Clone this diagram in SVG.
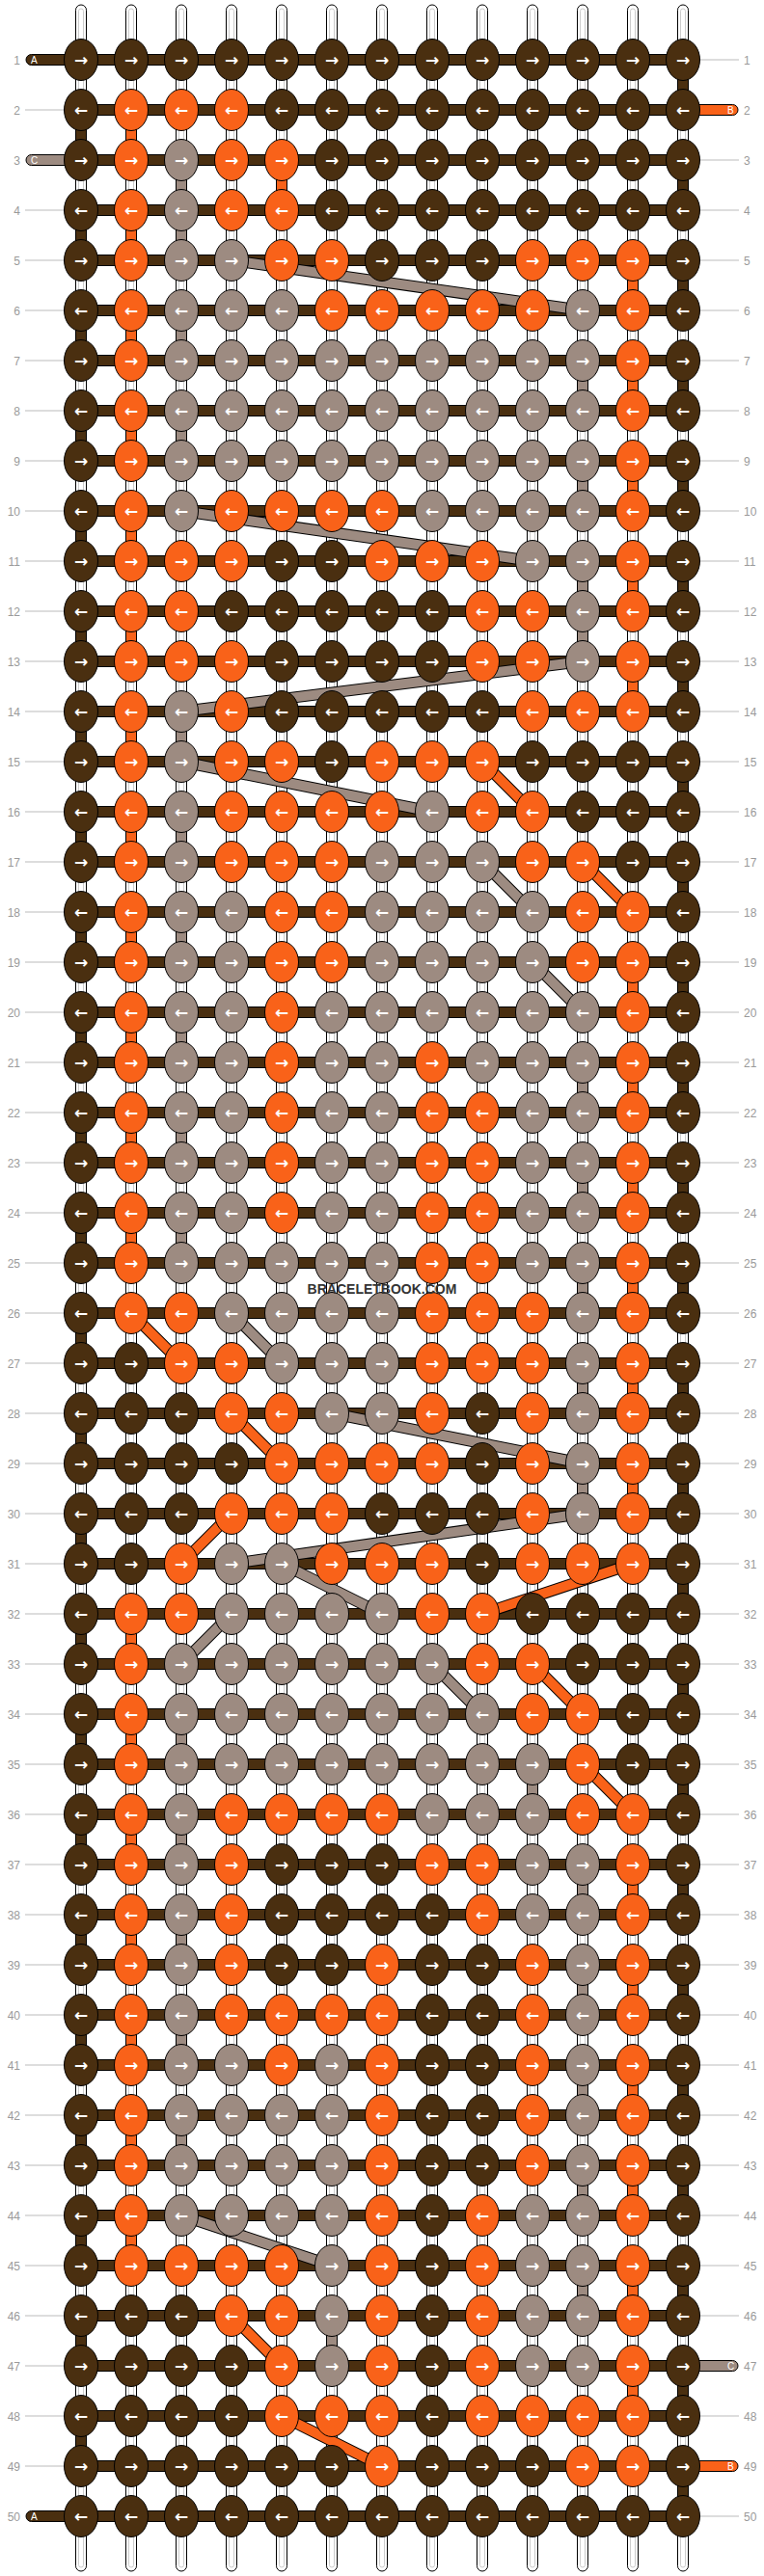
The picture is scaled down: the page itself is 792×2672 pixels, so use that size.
<svg xmlns="http://www.w3.org/2000/svg" xmlns:xlink="http://www.w3.org/1999/xlink" width="792" height="2672" viewBox="0 0 792 2672">
<style>
.k text{font-family:"DejaVu Sans",sans-serif;font-size:17px;font-weight:bold;fill:#fff;text-anchor:middle;dominant-baseline:central}
.n{font-family:"Liberation Sans",Arial,sans-serif;font-size:12px;fill:#9a9a9a}
.nl{text-anchor:end}
.gl{stroke:#bbb;stroke-width:1}
.vs{fill:#fff;stroke:#000;stroke-width:1}
.vi{fill:none;stroke:#ccc;stroke-width:1}
.hb{fill:#4a2f10;stroke:#000;stroke-width:1}
.cD{fill:#4a2f10;stroke:#000;stroke-width:1}
.cO{fill:#f96219;stroke:#000;stroke-width:1}
.cG{fill:#9d8b81;stroke:#000;stroke-width:1}
.dk{stroke:#000;stroke-width:12;fill:none}
.dO{stroke:#f96219;stroke-width:10;fill:none}
.dG{stroke:#9d8b81;stroke-width:10;fill:none}
.sl{font-family:"Liberation Sans",Arial,sans-serif;font-size:10px;fill:#fff}
.wm{font-family:"Liberation Sans",Arial,sans-serif;font-size:14px;font-weight:bold;fill:#333;text-anchor:middle}
</style>
<defs>
<ellipse id="D" rx="17.5" ry="21.5" fill="#4a2f10" stroke="#000" stroke-width="1"/>
<ellipse id="O" rx="17.5" ry="21.5" fill="#f96219" stroke="#000" stroke-width="1"/>
<ellipse id="G" rx="17.5" ry="21.5" fill="#9d8b81" stroke="#000" stroke-width="1"/>
</defs>
<rect width="792" height="2672" fill="#fff"/>
<g id="strands">
<rect class="vs" x="78.5" y="5" width="11" height="2662" rx="5.5"/><rect class="vi" x="81.5" y="9" width="5" height="2654" rx="2.5"/>
<rect class="vs" x="130.5" y="5" width="11" height="2662" rx="5.5"/><rect class="vi" x="133.5" y="9" width="5" height="2654" rx="2.5"/>
<rect class="vs" x="182.5" y="5" width="11" height="2662" rx="5.5"/><rect class="vi" x="185.5" y="9" width="5" height="2654" rx="2.5"/>
<rect class="vs" x="234.5" y="5" width="11" height="2662" rx="5.5"/><rect class="vi" x="237.5" y="9" width="5" height="2654" rx="2.5"/>
<rect class="vs" x="286.5" y="5" width="11" height="2662" rx="5.5"/><rect class="vi" x="289.5" y="9" width="5" height="2654" rx="2.5"/>
<rect class="vs" x="338.5" y="5" width="11" height="2662" rx="5.5"/><rect class="vi" x="341.5" y="9" width="5" height="2654" rx="2.5"/>
<rect class="vs" x="390.5" y="5" width="11" height="2662" rx="5.5"/><rect class="vi" x="393.5" y="9" width="5" height="2654" rx="2.5"/>
<rect class="vs" x="442.5" y="5" width="11" height="2662" rx="5.5"/><rect class="vi" x="445.5" y="9" width="5" height="2654" rx="2.5"/>
<rect class="vs" x="494.5" y="5" width="11" height="2662" rx="5.5"/><rect class="vi" x="497.5" y="9" width="5" height="2654" rx="2.5"/>
<rect class="vs" x="546.5" y="5" width="11" height="2662" rx="5.5"/><rect class="vi" x="549.5" y="9" width="5" height="2654" rx="2.5"/>
<rect class="vs" x="598.5" y="5" width="11" height="2662" rx="5.5"/><rect class="vi" x="601.5" y="9" width="5" height="2654" rx="2.5"/>
<rect class="vs" x="650.5" y="5" width="11" height="2662" rx="5.5"/><rect class="vi" x="653.5" y="9" width="5" height="2654" rx="2.5"/>
<rect class="vs" x="702.5" y="5" width="11" height="2662" rx="5.5"/><rect class="vi" x="705.5" y="9" width="5" height="2654" rx="2.5"/>
</g>
<g id="rowlabels">
<text class="n nl" x="21" y="66.5">1</text><text class="n" x="771" y="66.5">1</text>
<text class="n nl" x="21" y="118.5">2</text><text class="n" x="771" y="118.5">2</text>
<text class="n nl" x="21" y="170.5">3</text><text class="n" x="771" y="170.5">3</text>
<text class="n nl" x="21" y="222.5">4</text><text class="n" x="771" y="222.5">4</text>
<text class="n nl" x="21" y="274.5">5</text><text class="n" x="771" y="274.5">5</text>
<text class="n nl" x="21" y="326.5">6</text><text class="n" x="771" y="326.5">6</text>
<text class="n nl" x="21" y="378.5">7</text><text class="n" x="771" y="378.5">7</text>
<text class="n nl" x="21" y="430.5">8</text><text class="n" x="771" y="430.5">8</text>
<text class="n nl" x="21" y="482.5">9</text><text class="n" x="771" y="482.5">9</text>
<text class="n nl" x="21" y="534.5">10</text><text class="n" x="771" y="534.5">10</text>
<text class="n nl" x="21" y="586.5">11</text><text class="n" x="771" y="586.5">11</text>
<text class="n nl" x="21" y="638.5">12</text><text class="n" x="771" y="638.5">12</text>
<text class="n nl" x="21" y="690.5">13</text><text class="n" x="771" y="690.5">13</text>
<text class="n nl" x="21" y="742.5">14</text><text class="n" x="771" y="742.5">14</text>
<text class="n nl" x="21" y="794.5">15</text><text class="n" x="771" y="794.5">15</text>
<text class="n nl" x="21" y="846.5">16</text><text class="n" x="771" y="846.5">16</text>
<text class="n nl" x="21" y="898.5">17</text><text class="n" x="771" y="898.5">17</text>
<text class="n nl" x="21" y="950.5">18</text><text class="n" x="771" y="950.5">18</text>
<text class="n nl" x="21" y="1002.5">19</text><text class="n" x="771" y="1002.5">19</text>
<text class="n nl" x="21" y="1054.5">20</text><text class="n" x="771" y="1054.5">20</text>
<text class="n nl" x="21" y="1106.5">21</text><text class="n" x="771" y="1106.5">21</text>
<text class="n nl" x="21" y="1158.5">22</text><text class="n" x="771" y="1158.5">22</text>
<text class="n nl" x="21" y="1210.5">23</text><text class="n" x="771" y="1210.5">23</text>
<text class="n nl" x="21" y="1262.5">24</text><text class="n" x="771" y="1262.5">24</text>
<text class="n nl" x="21" y="1314.5">25</text><text class="n" x="771" y="1314.5">25</text>
<text class="n nl" x="21" y="1366.5">26</text><text class="n" x="771" y="1366.5">26</text>
<text class="n nl" x="21" y="1418.5">27</text><text class="n" x="771" y="1418.5">27</text>
<text class="n nl" x="21" y="1470.5">28</text><text class="n" x="771" y="1470.5">28</text>
<text class="n nl" x="21" y="1522.5">29</text><text class="n" x="771" y="1522.5">29</text>
<text class="n nl" x="21" y="1574.5">30</text><text class="n" x="771" y="1574.5">30</text>
<text class="n nl" x="21" y="1626.5">31</text><text class="n" x="771" y="1626.5">31</text>
<text class="n nl" x="21" y="1678.5">32</text><text class="n" x="771" y="1678.5">32</text>
<text class="n nl" x="21" y="1730.5">33</text><text class="n" x="771" y="1730.5">33</text>
<text class="n nl" x="21" y="1782.5">34</text><text class="n" x="771" y="1782.5">34</text>
<text class="n nl" x="21" y="1834.5">35</text><text class="n" x="771" y="1834.5">35</text>
<text class="n nl" x="21" y="1886.5">36</text><text class="n" x="771" y="1886.5">36</text>
<text class="n nl" x="21" y="1938.5">37</text><text class="n" x="771" y="1938.5">37</text>
<text class="n nl" x="21" y="1990.5">38</text><text class="n" x="771" y="1990.5">38</text>
<text class="n nl" x="21" y="2042.5">39</text><text class="n" x="771" y="2042.5">39</text>
<text class="n nl" x="21" y="2094.5">40</text><text class="n" x="771" y="2094.5">40</text>
<text class="n nl" x="21" y="2146.5">41</text><text class="n" x="771" y="2146.5">41</text>
<text class="n nl" x="21" y="2198.5">42</text><text class="n" x="771" y="2198.5">42</text>
<text class="n nl" x="21" y="2250.5">43</text><text class="n" x="771" y="2250.5">43</text>
<text class="n nl" x="21" y="2302.5">44</text><text class="n" x="771" y="2302.5">44</text>
<text class="n nl" x="21" y="2354.5">45</text><text class="n" x="771" y="2354.5">45</text>
<text class="n nl" x="21" y="2406.5">46</text><text class="n" x="771" y="2406.5">46</text>
<text class="n nl" x="21" y="2458.5">47</text><text class="n" x="771" y="2458.5">47</text>
<text class="n nl" x="21" y="2510.5">48</text><text class="n" x="771" y="2510.5">48</text>
<text class="n nl" x="21" y="2562.5">49</text><text class="n" x="771" y="2562.5">49</text>
<text class="n nl" x="21" y="2614.5">50</text><text class="n" x="771" y="2614.5">50</text>
</g>
<g id="guides" class="gl">
<line x1="726" x2="766" y1="62" y2="62"/>
<line x1="26" x2="66" y1="114" y2="114"/>
<line x1="726" x2="766" y1="166" y2="166"/>
<line x1="26" x2="66" y1="218" y2="218"/><line x1="726" x2="766" y1="218" y2="218"/>
<line x1="26" x2="66" y1="270" y2="270"/><line x1="726" x2="766" y1="270" y2="270"/>
<line x1="26" x2="66" y1="322" y2="322"/><line x1="726" x2="766" y1="322" y2="322"/>
<line x1="26" x2="66" y1="374" y2="374"/><line x1="726" x2="766" y1="374" y2="374"/>
<line x1="26" x2="66" y1="426" y2="426"/><line x1="726" x2="766" y1="426" y2="426"/>
<line x1="26" x2="66" y1="478" y2="478"/><line x1="726" x2="766" y1="478" y2="478"/>
<line x1="26" x2="66" y1="530" y2="530"/><line x1="726" x2="766" y1="530" y2="530"/>
<line x1="26" x2="66" y1="582" y2="582"/><line x1="726" x2="766" y1="582" y2="582"/>
<line x1="26" x2="66" y1="634" y2="634"/><line x1="726" x2="766" y1="634" y2="634"/>
<line x1="26" x2="66" y1="686" y2="686"/><line x1="726" x2="766" y1="686" y2="686"/>
<line x1="26" x2="66" y1="738" y2="738"/><line x1="726" x2="766" y1="738" y2="738"/>
<line x1="26" x2="66" y1="790" y2="790"/><line x1="726" x2="766" y1="790" y2="790"/>
<line x1="26" x2="66" y1="842" y2="842"/><line x1="726" x2="766" y1="842" y2="842"/>
<line x1="26" x2="66" y1="894" y2="894"/><line x1="726" x2="766" y1="894" y2="894"/>
<line x1="26" x2="66" y1="946" y2="946"/><line x1="726" x2="766" y1="946" y2="946"/>
<line x1="26" x2="66" y1="998" y2="998"/><line x1="726" x2="766" y1="998" y2="998"/>
<line x1="26" x2="66" y1="1050" y2="1050"/><line x1="726" x2="766" y1="1050" y2="1050"/>
<line x1="26" x2="66" y1="1102" y2="1102"/><line x1="726" x2="766" y1="1102" y2="1102"/>
<line x1="26" x2="66" y1="1154" y2="1154"/><line x1="726" x2="766" y1="1154" y2="1154"/>
<line x1="26" x2="66" y1="1206" y2="1206"/><line x1="726" x2="766" y1="1206" y2="1206"/>
<line x1="26" x2="66" y1="1258" y2="1258"/><line x1="726" x2="766" y1="1258" y2="1258"/>
<line x1="26" x2="66" y1="1310" y2="1310"/><line x1="726" x2="766" y1="1310" y2="1310"/>
<line x1="26" x2="66" y1="1362" y2="1362"/><line x1="726" x2="766" y1="1362" y2="1362"/>
<line x1="26" x2="66" y1="1414" y2="1414"/><line x1="726" x2="766" y1="1414" y2="1414"/>
<line x1="26" x2="66" y1="1466" y2="1466"/><line x1="726" x2="766" y1="1466" y2="1466"/>
<line x1="26" x2="66" y1="1518" y2="1518"/><line x1="726" x2="766" y1="1518" y2="1518"/>
<line x1="26" x2="66" y1="1570" y2="1570"/><line x1="726" x2="766" y1="1570" y2="1570"/>
<line x1="26" x2="66" y1="1622" y2="1622"/><line x1="726" x2="766" y1="1622" y2="1622"/>
<line x1="26" x2="66" y1="1674" y2="1674"/><line x1="726" x2="766" y1="1674" y2="1674"/>
<line x1="26" x2="66" y1="1726" y2="1726"/><line x1="726" x2="766" y1="1726" y2="1726"/>
<line x1="26" x2="66" y1="1778" y2="1778"/><line x1="726" x2="766" y1="1778" y2="1778"/>
<line x1="26" x2="66" y1="1830" y2="1830"/><line x1="726" x2="766" y1="1830" y2="1830"/>
<line x1="26" x2="66" y1="1882" y2="1882"/><line x1="726" x2="766" y1="1882" y2="1882"/>
<line x1="26" x2="66" y1="1934" y2="1934"/><line x1="726" x2="766" y1="1934" y2="1934"/>
<line x1="26" x2="66" y1="1986" y2="1986"/><line x1="726" x2="766" y1="1986" y2="1986"/>
<line x1="26" x2="66" y1="2038" y2="2038"/><line x1="726" x2="766" y1="2038" y2="2038"/>
<line x1="26" x2="66" y1="2090" y2="2090"/><line x1="726" x2="766" y1="2090" y2="2090"/>
<line x1="26" x2="66" y1="2142" y2="2142"/><line x1="726" x2="766" y1="2142" y2="2142"/>
<line x1="26" x2="66" y1="2194" y2="2194"/><line x1="726" x2="766" y1="2194" y2="2194"/>
<line x1="26" x2="66" y1="2246" y2="2246"/><line x1="726" x2="766" y1="2246" y2="2246"/>
<line x1="26" x2="66" y1="2298" y2="2298"/><line x1="726" x2="766" y1="2298" y2="2298"/>
<line x1="26" x2="66" y1="2350" y2="2350"/><line x1="726" x2="766" y1="2350" y2="2350"/>
<line x1="26" x2="66" y1="2402" y2="2402"/><line x1="726" x2="766" y1="2402" y2="2402"/>
<line x1="26" x2="66" y1="2454" y2="2454"/>
<line x1="26" x2="66" y1="2506" y2="2506"/><line x1="726" x2="766" y1="2506" y2="2506"/>
<line x1="26" x2="66" y1="2558" y2="2558"/>
<line x1="726" x2="766" y1="2610" y2="2610"/>
</g>
<g id="hbars">
<rect class="hb" x="84" y="56.5" width="624" height="11"/>
<rect class="hb" x="84" y="108.5" width="624" height="11"/>
<rect class="hb" x="84" y="160.5" width="624" height="11"/>
<rect class="hb" x="84" y="212.5" width="624" height="11"/>
<rect class="hb" x="84" y="264.5" width="624" height="11"/>
<rect class="hb" x="84" y="316.5" width="624" height="11"/>
<rect class="hb" x="84" y="368.5" width="624" height="11"/>
<rect class="hb" x="84" y="420.5" width="624" height="11"/>
<rect class="hb" x="84" y="472.5" width="624" height="11"/>
<rect class="hb" x="84" y="524.5" width="624" height="11"/>
<rect class="hb" x="84" y="576.5" width="624" height="11"/>
<rect class="hb" x="84" y="628.5" width="624" height="11"/>
<rect class="hb" x="84" y="680.5" width="624" height="11"/>
<rect class="hb" x="84" y="732.5" width="624" height="11"/>
<rect class="hb" x="84" y="784.5" width="624" height="11"/>
<rect class="hb" x="84" y="836.5" width="624" height="11"/>
<rect class="hb" x="84" y="888.5" width="624" height="11"/>
<rect class="hb" x="84" y="940.5" width="624" height="11"/>
<rect class="hb" x="84" y="992.5" width="624" height="11"/>
<rect class="hb" x="84" y="1044.5" width="624" height="11"/>
<rect class="hb" x="84" y="1096.5" width="624" height="11"/>
<rect class="hb" x="84" y="1148.5" width="624" height="11"/>
<rect class="hb" x="84" y="1200.5" width="624" height="11"/>
<rect class="hb" x="84" y="1252.5" width="624" height="11"/>
<rect class="hb" x="84" y="1304.5" width="624" height="11"/>
<rect class="hb" x="84" y="1356.5" width="624" height="11"/>
<rect class="hb" x="84" y="1408.5" width="624" height="11"/>
<rect class="hb" x="84" y="1460.5" width="624" height="11"/>
<rect class="hb" x="84" y="1512.5" width="624" height="11"/>
<rect class="hb" x="84" y="1564.5" width="624" height="11"/>
<rect class="hb" x="84" y="1616.5" width="624" height="11"/>
<rect class="hb" x="84" y="1668.5" width="624" height="11"/>
<rect class="hb" x="84" y="1720.5" width="624" height="11"/>
<rect class="hb" x="84" y="1772.5" width="624" height="11"/>
<rect class="hb" x="84" y="1824.5" width="624" height="11"/>
<rect class="hb" x="84" y="1876.5" width="624" height="11"/>
<rect class="hb" x="84" y="1928.5" width="624" height="11"/>
<rect class="hb" x="84" y="1980.5" width="624" height="11"/>
<rect class="hb" x="84" y="2032.5" width="624" height="11"/>
<rect class="hb" x="84" y="2084.5" width="624" height="11"/>
<rect class="hb" x="84" y="2136.5" width="624" height="11"/>
<rect class="hb" x="84" y="2188.5" width="624" height="11"/>
<rect class="hb" x="84" y="2240.5" width="624" height="11"/>
<rect class="hb" x="84" y="2292.5" width="624" height="11"/>
<rect class="hb" x="84" y="2344.5" width="624" height="11"/>
<rect class="hb" x="84" y="2396.5" width="624" height="11"/>
<rect class="hb" x="84" y="2448.5" width="624" height="11"/>
<rect class="hb" x="84" y="2500.5" width="624" height="11"/>
<rect class="hb" x="84" y="2552.5" width="624" height="11"/>
<rect class="hb" x="84" y="2604.5" width="624" height="11"/>
</g>
<g id="stubs">
<rect class="cD" x="27" y="56.5" width="60" height="11" rx="5.5"/><text class="sl" x="32" y="66">A</text>
<rect class="cO" x="705" y="108.5" width="60" height="11" rx="5.5"/><text class="sl" x="754" y="118">B</text>
<rect class="cG" x="27" y="160.5" width="60" height="11" rx="5.5"/><text class="sl" x="32" y="170">C</text>
<rect class="cG" x="705" y="2448.5" width="60" height="11" rx="5.5"/><text class="sl" x="754" y="2458">C</text>
<rect class="cO" x="705" y="2552.5" width="60" height="11" rx="5.5"/><text class="sl" x="754" y="2562">B</text>
<rect class="cD" x="27" y="2604.5" width="60" height="11" rx="5.5"/><text class="sl" x="32" y="2614">A</text>
</g>
<g id="connectors">
<rect class="cD" x="702.5" y="77" width="11" height="22"/>
<rect class="cD" x="78.5" y="129" width="11" height="22"/>
<rect class="cD" x="702.5" y="181" width="11" height="22"/>
<rect class="cD" x="78.5" y="233" width="11" height="22"/>
<rect class="cD" x="702.5" y="285" width="11" height="22"/>
<rect class="cD" x="78.5" y="337" width="11" height="22"/>
<rect class="cD" x="702.5" y="389" width="11" height="22"/>
<rect class="cD" x="78.5" y="441" width="11" height="22"/>
<rect class="cD" x="702.5" y="493" width="11" height="22"/>
<rect class="cD" x="78.5" y="545" width="11" height="22"/>
<rect class="cD" x="702.5" y="597" width="11" height="22"/>
<rect class="cD" x="78.5" y="649" width="11" height="22"/>
<rect class="cD" x="702.5" y="701" width="11" height="22"/>
<rect class="cD" x="78.5" y="753" width="11" height="22"/>
<rect class="cD" x="702.5" y="805" width="11" height="22"/>
<rect class="cD" x="78.5" y="857" width="11" height="22"/>
<rect class="cD" x="702.5" y="909" width="11" height="22"/>
<rect class="cD" x="78.5" y="961" width="11" height="22"/>
<rect class="cD" x="702.5" y="1013" width="11" height="22"/>
<rect class="cD" x="78.5" y="1065" width="11" height="22"/>
<rect class="cD" x="702.5" y="1117" width="11" height="22"/>
<rect class="cD" x="78.5" y="1169" width="11" height="22"/>
<rect class="cD" x="702.5" y="1221" width="11" height="22"/>
<rect class="cD" x="78.5" y="1273" width="11" height="22"/>
<rect class="cD" x="702.5" y="1325" width="11" height="22"/>
<rect class="cD" x="78.5" y="1377" width="11" height="22"/>
<rect class="cD" x="702.5" y="1429" width="11" height="22"/>
<rect class="cD" x="78.5" y="1481" width="11" height="22"/>
<rect class="cD" x="702.5" y="1533" width="11" height="22"/>
<rect class="cD" x="78.5" y="1585" width="11" height="22"/>
<rect class="cD" x="702.5" y="1637" width="11" height="22"/>
<rect class="cD" x="78.5" y="1689" width="11" height="22"/>
<rect class="cD" x="702.5" y="1741" width="11" height="22"/>
<rect class="cD" x="78.5" y="1793" width="11" height="22"/>
<rect class="cD" x="702.5" y="1845" width="11" height="22"/>
<rect class="cD" x="78.5" y="1897" width="11" height="22"/>
<rect class="cD" x="702.5" y="1949" width="11" height="22"/>
<rect class="cD" x="78.5" y="2001" width="11" height="22"/>
<rect class="cD" x="702.5" y="2053" width="11" height="22"/>
<rect class="cD" x="78.5" y="2105" width="11" height="22"/>
<rect class="cD" x="702.5" y="2157" width="11" height="22"/>
<rect class="cD" x="78.5" y="2209" width="11" height="22"/>
<rect class="cD" x="702.5" y="2261" width="11" height="22"/>
<rect class="cD" x="78.5" y="2313" width="11" height="22"/>
<rect class="cD" x="702.5" y="2365" width="11" height="22"/>
<rect class="cD" x="78.5" y="2417" width="11" height="22"/>
<rect class="cD" x="702.5" y="2469" width="11" height="22"/>
<rect class="cD" x="78.5" y="2521" width="11" height="22"/>
<rect class="cD" x="702.5" y="2573" width="11" height="22"/>
<rect class="cO" x="130.5" y="129" width="11" height="22"/>
<rect class="cO" x="286.5" y="181" width="11" height="22"/>
<rect class="cO" x="130.5" y="233" width="11" height="22"/>
<rect class="cO" x="650.5" y="285" width="11" height="22"/>
<rect class="cO" x="130.5" y="337" width="11" height="22"/>
<rect class="cO" x="650.5" y="389" width="11" height="22"/>
<rect class="cO" x="130.5" y="441" width="11" height="22"/>
<rect class="cO" x="650.5" y="493" width="11" height="22"/>
<rect class="cO" x="130.5" y="545" width="11" height="22"/>
<rect class="cO" x="650.5" y="597" width="11" height="22"/>
<rect class="cO" x="130.5" y="649" width="11" height="22"/>
<rect class="cO" x="650.5" y="701" width="11" height="22"/>
<rect class="cO" x="130.5" y="753" width="11" height="22"/>
<rect class="cO" x="130.5" y="857" width="11" height="22"/>
<rect class="cO" x="130.5" y="961" width="11" height="22"/>
<rect class="cO" x="650.5" y="1013" width="11" height="22"/>
<rect class="cO" x="130.5" y="1065" width="11" height="22"/>
<rect class="cO" x="650.5" y="1117" width="11" height="22"/>
<rect class="cO" x="130.5" y="1169" width="11" height="22"/>
<rect class="cO" x="650.5" y="1221" width="11" height="22"/>
<rect class="cO" x="130.5" y="1273" width="11" height="22"/>
<rect class="cO" x="650.5" y="1325" width="11" height="22"/>
<rect class="cO" x="650.5" y="1429" width="11" height="22"/>
<rect class="cO" x="650.5" y="1533" width="11" height="22"/>
<rect class="cO" x="130.5" y="1689" width="11" height="22"/>
<rect class="cO" x="130.5" y="1793" width="11" height="22"/>
<rect class="cO" x="130.5" y="1897" width="11" height="22"/>
<rect class="cO" x="650.5" y="1949" width="11" height="22"/>
<rect class="cO" x="130.5" y="2001" width="11" height="22"/>
<rect class="cO" x="650.5" y="2053" width="11" height="22"/>
<rect class="cO" x="130.5" y="2105" width="11" height="22"/>
<rect class="cO" x="650.5" y="2157" width="11" height="22"/>
<rect class="cO" x="130.5" y="2209" width="11" height="22"/>
<rect class="cO" x="650.5" y="2261" width="11" height="22"/>
<rect class="cO" x="130.5" y="2313" width="11" height="22"/>
<rect class="cO" x="650.5" y="2365" width="11" height="22"/>
<rect class="cO" x="650.5" y="2469" width="11" height="22"/>
<rect class="cG" x="182.5" y="181" width="11" height="22"/>
<rect class="cG" x="182.5" y="233" width="11" height="22"/>
<rect class="cG" x="182.5" y="337" width="11" height="22"/>
<rect class="cG" x="598.5" y="389" width="11" height="22"/>
<rect class="cG" x="182.5" y="441" width="11" height="22"/>
<rect class="cG" x="598.5" y="493" width="11" height="22"/>
<rect class="cG" x="598.5" y="597" width="11" height="22"/>
<rect class="cG" x="598.5" y="649" width="11" height="22"/>
<rect class="cG" x="182.5" y="753" width="11" height="22"/>
<rect class="cG" x="182.5" y="857" width="11" height="22"/>
<rect class="cG" x="182.5" y="961" width="11" height="22"/>
<rect class="cG" x="182.5" y="1065" width="11" height="22"/>
<rect class="cG" x="598.5" y="1117" width="11" height="22"/>
<rect class="cG" x="182.5" y="1169" width="11" height="22"/>
<rect class="cG" x="598.5" y="1221" width="11" height="22"/>
<rect class="cG" x="182.5" y="1273" width="11" height="22"/>
<rect class="cG" x="598.5" y="1325" width="11" height="22"/>
<rect class="cG" x="598.5" y="1429" width="11" height="22"/>
<rect class="cG" x="598.5" y="1533" width="11" height="22"/>
<rect class="cG" x="182.5" y="1793" width="11" height="22"/>
<rect class="cG" x="546.5" y="1845" width="11" height="22"/>
<rect class="cG" x="182.5" y="1897" width="11" height="22"/>
<rect class="cG" x="598.5" y="1949" width="11" height="22"/>
<rect class="cG" x="182.5" y="2001" width="11" height="22"/>
<rect class="cG" x="598.5" y="2053" width="11" height="22"/>
<rect class="cG" x="182.5" y="2105" width="11" height="22"/>
<rect class="cG" x="598.5" y="2157" width="11" height="22"/>
<rect class="cG" x="182.5" y="2209" width="11" height="22"/>
<rect class="cG" x="598.5" y="2261" width="11" height="22"/>
<rect class="cG" x="598.5" y="2365" width="11" height="22"/>
<rect class="cG" x="338.5" y="2417" width="11" height="22"/>
<path class="dk" d="M240 270L604 322M188 530L552 582M604 686L188 738M188 790L448 842M500 894L552 946M552 998L604 1050M240 1362L292 1414M344 1466L604 1518M604 1570L240 1622M292 1622L396 1674M240 1674L188 1726M448 1726L500 1778M188 2298L344 2350"/>
<path class="dG" d="M240 270L604 322M188 530L552 582M604 686L188 738M188 790L448 842M500 894L552 946M552 998L604 1050M240 1362L292 1414M344 1466L604 1518M604 1570L240 1622M292 1622L396 1674M240 1674L188 1726M448 1726L500 1778M188 2298L344 2350"/>
<path class="dk" d="M500 790L552 842M604 894L656 946M136 1362L188 1414M240 1466L292 1518M240 1570L188 1622M656 1622L500 1674M552 1726L604 1778M604 1830L656 1882M240 2402L292 2454M292 2506L396 2558"/>
<path class="dO" d="M500 790L552 842M604 894L656 946M136 1362L188 1414M240 1466L292 1518M240 1570L188 1622M656 1622L500 1674M552 1726L604 1778M604 1830L656 1882M240 2402L292 2454M292 2506L396 2558"/>
</g>
<g id="knots" class="k">
<g id="row1" transform="translate(0,62)">
<g id="k1-1"><use href="#D" x="84"/><text x="84">→</text></g>
<g id="k1-2"><use href="#D" x="136"/><text x="136">→</text></g>
<g id="k1-3"><use href="#D" x="188"/><text x="188">→</text></g>
<g id="k1-4"><use href="#D" x="240"/><text x="240">→</text></g>
<g id="k1-5"><use href="#D" x="292"/><text x="292">→</text></g>
<g id="k1-6"><use href="#D" x="344"/><text x="344">→</text></g>
<g id="k1-7"><use href="#D" x="396"/><text x="396">→</text></g>
<g id="k1-8"><use href="#D" x="448"/><text x="448">→</text></g>
<g id="k1-9"><use href="#D" x="500"/><text x="500">→</text></g>
<g id="k1-10"><use href="#D" x="552"/><text x="552">→</text></g>
<g id="k1-11"><use href="#D" x="604"/><text x="604">→</text></g>
<g id="k1-12"><use href="#D" x="656"/><text x="656">→</text></g>
<g id="k1-13"><use href="#D" x="708"/><text x="708">→</text></g>
</g>
<g id="row2" transform="translate(0,114)">
<g id="k2-1"><use href="#D" x="84"/><text x="84">←</text></g>
<g id="k2-2"><use href="#O" x="136"/><text x="136">←</text></g>
<g id="k2-3"><use href="#O" x="188"/><text x="188">←</text></g>
<g id="k2-4"><use href="#O" x="240"/><text x="240">←</text></g>
<g id="k2-5"><use href="#D" x="292"/><text x="292">←</text></g>
<g id="k2-6"><use href="#D" x="344"/><text x="344">←</text></g>
<g id="k2-7"><use href="#D" x="396"/><text x="396">←</text></g>
<g id="k2-8"><use href="#D" x="448"/><text x="448">←</text></g>
<g id="k2-9"><use href="#D" x="500"/><text x="500">←</text></g>
<g id="k2-10"><use href="#D" x="552"/><text x="552">←</text></g>
<g id="k2-11"><use href="#D" x="604"/><text x="604">←</text></g>
<g id="k2-12"><use href="#D" x="656"/><text x="656">←</text></g>
<g id="k2-13"><use href="#D" x="708"/><text x="708">←</text></g>
</g>
<g id="row3" transform="translate(0,166)">
<g id="k3-1"><use href="#D" x="84"/><text x="84">→</text></g>
<g id="k3-2"><use href="#O" x="136"/><text x="136">→</text></g>
<g id="k3-3"><use href="#G" x="188"/><text x="188">→</text></g>
<g id="k3-4"><use href="#O" x="240"/><text x="240">→</text></g>
<g id="k3-5"><use href="#O" x="292"/><text x="292">→</text></g>
<g id="k3-6"><use href="#D" x="344"/><text x="344">→</text></g>
<g id="k3-7"><use href="#D" x="396"/><text x="396">→</text></g>
<g id="k3-8"><use href="#D" x="448"/><text x="448">→</text></g>
<g id="k3-9"><use href="#D" x="500"/><text x="500">→</text></g>
<g id="k3-10"><use href="#D" x="552"/><text x="552">→</text></g>
<g id="k3-11"><use href="#D" x="604"/><text x="604">→</text></g>
<g id="k3-12"><use href="#D" x="656"/><text x="656">→</text></g>
<g id="k3-13"><use href="#D" x="708"/><text x="708">→</text></g>
</g>
<g id="row4" transform="translate(0,218)">
<g id="k4-1"><use href="#D" x="84"/><text x="84">←</text></g>
<g id="k4-2"><use href="#O" x="136"/><text x="136">←</text></g>
<g id="k4-3"><use href="#G" x="188"/><text x="188">←</text></g>
<g id="k4-4"><use href="#O" x="240"/><text x="240">←</text></g>
<g id="k4-5"><use href="#O" x="292"/><text x="292">←</text></g>
<g id="k4-6"><use href="#D" x="344"/><text x="344">←</text></g>
<g id="k4-7"><use href="#D" x="396"/><text x="396">←</text></g>
<g id="k4-8"><use href="#D" x="448"/><text x="448">←</text></g>
<g id="k4-9"><use href="#D" x="500"/><text x="500">←</text></g>
<g id="k4-10"><use href="#D" x="552"/><text x="552">←</text></g>
<g id="k4-11"><use href="#D" x="604"/><text x="604">←</text></g>
<g id="k4-12"><use href="#D" x="656"/><text x="656">←</text></g>
<g id="k4-13"><use href="#D" x="708"/><text x="708">←</text></g>
</g>
<g id="row5" transform="translate(0,270)">
<g id="k5-1"><use href="#D" x="84"/><text x="84">→</text></g>
<g id="k5-2"><use href="#O" x="136"/><text x="136">→</text></g>
<g id="k5-3"><use href="#G" x="188"/><text x="188">→</text></g>
<g id="k5-4"><use href="#G" x="240"/><text x="240">→</text></g>
<g id="k5-5"><use href="#O" x="292"/><text x="292">→</text></g>
<g id="k5-6"><use href="#O" x="344"/><text x="344">→</text></g>
<g id="k5-7"><use href="#D" x="396"/><text x="396">→</text></g>
<g id="k5-8"><use href="#D" x="448"/><text x="448">→</text></g>
<g id="k5-9"><use href="#D" x="500"/><text x="500">→</text></g>
<g id="k5-10"><use href="#O" x="552"/><text x="552">→</text></g>
<g id="k5-11"><use href="#O" x="604"/><text x="604">→</text></g>
<g id="k5-12"><use href="#O" x="656"/><text x="656">→</text></g>
<g id="k5-13"><use href="#D" x="708"/><text x="708">→</text></g>
</g>
<g id="row6" transform="translate(0,322)">
<g id="k6-1"><use href="#D" x="84"/><text x="84">←</text></g>
<g id="k6-2"><use href="#O" x="136"/><text x="136">←</text></g>
<g id="k6-3"><use href="#G" x="188"/><text x="188">←</text></g>
<g id="k6-4"><use href="#G" x="240"/><text x="240">←</text></g>
<g id="k6-5"><use href="#G" x="292"/><text x="292">←</text></g>
<g id="k6-6"><use href="#O" x="344"/><text x="344">←</text></g>
<g id="k6-7"><use href="#O" x="396"/><text x="396">←</text></g>
<g id="k6-8"><use href="#O" x="448"/><text x="448">←</text></g>
<g id="k6-9"><use href="#O" x="500"/><text x="500">←</text></g>
<g id="k6-10"><use href="#O" x="552"/><text x="552">←</text></g>
<g id="k6-11"><use href="#G" x="604"/><text x="604">←</text></g>
<g id="k6-12"><use href="#O" x="656"/><text x="656">←</text></g>
<g id="k6-13"><use href="#D" x="708"/><text x="708">←</text></g>
</g>
<g id="row7" transform="translate(0,374)">
<g id="k7-1"><use href="#D" x="84"/><text x="84">→</text></g>
<g id="k7-2"><use href="#O" x="136"/><text x="136">→</text></g>
<g id="k7-3"><use href="#G" x="188"/><text x="188">→</text></g>
<g id="k7-4"><use href="#G" x="240"/><text x="240">→</text></g>
<g id="k7-5"><use href="#G" x="292"/><text x="292">→</text></g>
<g id="k7-6"><use href="#G" x="344"/><text x="344">→</text></g>
<g id="k7-7"><use href="#G" x="396"/><text x="396">→</text></g>
<g id="k7-8"><use href="#G" x="448"/><text x="448">→</text></g>
<g id="k7-9"><use href="#G" x="500"/><text x="500">→</text></g>
<g id="k7-10"><use href="#G" x="552"/><text x="552">→</text></g>
<g id="k7-11"><use href="#G" x="604"/><text x="604">→</text></g>
<g id="k7-12"><use href="#O" x="656"/><text x="656">→</text></g>
<g id="k7-13"><use href="#D" x="708"/><text x="708">→</text></g>
</g>
<g id="row8" transform="translate(0,426)">
<g id="k8-1"><use href="#D" x="84"/><text x="84">←</text></g>
<g id="k8-2"><use href="#O" x="136"/><text x="136">←</text></g>
<g id="k8-3"><use href="#G" x="188"/><text x="188">←</text></g>
<g id="k8-4"><use href="#G" x="240"/><text x="240">←</text></g>
<g id="k8-5"><use href="#G" x="292"/><text x="292">←</text></g>
<g id="k8-6"><use href="#G" x="344"/><text x="344">←</text></g>
<g id="k8-7"><use href="#G" x="396"/><text x="396">←</text></g>
<g id="k8-8"><use href="#G" x="448"/><text x="448">←</text></g>
<g id="k8-9"><use href="#G" x="500"/><text x="500">←</text></g>
<g id="k8-10"><use href="#G" x="552"/><text x="552">←</text></g>
<g id="k8-11"><use href="#G" x="604"/><text x="604">←</text></g>
<g id="k8-12"><use href="#O" x="656"/><text x="656">←</text></g>
<g id="k8-13"><use href="#D" x="708"/><text x="708">←</text></g>
</g>
<g id="row9" transform="translate(0,478)">
<g id="k9-1"><use href="#D" x="84"/><text x="84">→</text></g>
<g id="k9-2"><use href="#O" x="136"/><text x="136">→</text></g>
<g id="k9-3"><use href="#G" x="188"/><text x="188">→</text></g>
<g id="k9-4"><use href="#G" x="240"/><text x="240">→</text></g>
<g id="k9-5"><use href="#G" x="292"/><text x="292">→</text></g>
<g id="k9-6"><use href="#G" x="344"/><text x="344">→</text></g>
<g id="k9-7"><use href="#G" x="396"/><text x="396">→</text></g>
<g id="k9-8"><use href="#G" x="448"/><text x="448">→</text></g>
<g id="k9-9"><use href="#G" x="500"/><text x="500">→</text></g>
<g id="k9-10"><use href="#G" x="552"/><text x="552">→</text></g>
<g id="k9-11"><use href="#G" x="604"/><text x="604">→</text></g>
<g id="k9-12"><use href="#O" x="656"/><text x="656">→</text></g>
<g id="k9-13"><use href="#D" x="708"/><text x="708">→</text></g>
</g>
<g id="row10" transform="translate(0,530)">
<g id="k10-1"><use href="#D" x="84"/><text x="84">←</text></g>
<g id="k10-2"><use href="#O" x="136"/><text x="136">←</text></g>
<g id="k10-3"><use href="#G" x="188"/><text x="188">←</text></g>
<g id="k10-4"><use href="#O" x="240"/><text x="240">←</text></g>
<g id="k10-5"><use href="#O" x="292"/><text x="292">←</text></g>
<g id="k10-6"><use href="#O" x="344"/><text x="344">←</text></g>
<g id="k10-7"><use href="#O" x="396"/><text x="396">←</text></g>
<g id="k10-8"><use href="#G" x="448"/><text x="448">←</text></g>
<g id="k10-9"><use href="#G" x="500"/><text x="500">←</text></g>
<g id="k10-10"><use href="#G" x="552"/><text x="552">←</text></g>
<g id="k10-11"><use href="#G" x="604"/><text x="604">←</text></g>
<g id="k10-12"><use href="#O" x="656"/><text x="656">←</text></g>
<g id="k10-13"><use href="#D" x="708"/><text x="708">←</text></g>
</g>
<g id="row11" transform="translate(0,582)">
<g id="k11-1"><use href="#D" x="84"/><text x="84">→</text></g>
<g id="k11-2"><use href="#O" x="136"/><text x="136">→</text></g>
<g id="k11-3"><use href="#O" x="188"/><text x="188">→</text></g>
<g id="k11-4"><use href="#O" x="240"/><text x="240">→</text></g>
<g id="k11-5"><use href="#D" x="292"/><text x="292">→</text></g>
<g id="k11-6"><use href="#D" x="344"/><text x="344">→</text></g>
<g id="k11-7"><use href="#O" x="396"/><text x="396">→</text></g>
<g id="k11-8"><use href="#O" x="448"/><text x="448">→</text></g>
<g id="k11-9"><use href="#O" x="500"/><text x="500">→</text></g>
<g id="k11-10"><use href="#G" x="552"/><text x="552">→</text></g>
<g id="k11-11"><use href="#G" x="604"/><text x="604">→</text></g>
<g id="k11-12"><use href="#O" x="656"/><text x="656">→</text></g>
<g id="k11-13"><use href="#D" x="708"/><text x="708">→</text></g>
</g>
<g id="row12" transform="translate(0,634)">
<g id="k12-1"><use href="#D" x="84"/><text x="84">←</text></g>
<g id="k12-2"><use href="#O" x="136"/><text x="136">←</text></g>
<g id="k12-3"><use href="#O" x="188"/><text x="188">←</text></g>
<g id="k12-4"><use href="#D" x="240"/><text x="240">←</text></g>
<g id="k12-5"><use href="#D" x="292"/><text x="292">←</text></g>
<g id="k12-6"><use href="#D" x="344"/><text x="344">←</text></g>
<g id="k12-7"><use href="#D" x="396"/><text x="396">←</text></g>
<g id="k12-8"><use href="#D" x="448"/><text x="448">←</text></g>
<g id="k12-9"><use href="#O" x="500"/><text x="500">←</text></g>
<g id="k12-10"><use href="#O" x="552"/><text x="552">←</text></g>
<g id="k12-11"><use href="#G" x="604"/><text x="604">←</text></g>
<g id="k12-12"><use href="#O" x="656"/><text x="656">←</text></g>
<g id="k12-13"><use href="#D" x="708"/><text x="708">←</text></g>
</g>
<g id="row13" transform="translate(0,686)">
<g id="k13-1"><use href="#D" x="84"/><text x="84">→</text></g>
<g id="k13-2"><use href="#O" x="136"/><text x="136">→</text></g>
<g id="k13-3"><use href="#O" x="188"/><text x="188">→</text></g>
<g id="k13-4"><use href="#O" x="240"/><text x="240">→</text></g>
<g id="k13-5"><use href="#D" x="292"/><text x="292">→</text></g>
<g id="k13-6"><use href="#D" x="344"/><text x="344">→</text></g>
<g id="k13-7"><use href="#D" x="396"/><text x="396">→</text></g>
<g id="k13-8"><use href="#D" x="448"/><text x="448">→</text></g>
<g id="k13-9"><use href="#O" x="500"/><text x="500">→</text></g>
<g id="k13-10"><use href="#O" x="552"/><text x="552">→</text></g>
<g id="k13-11"><use href="#G" x="604"/><text x="604">→</text></g>
<g id="k13-12"><use href="#O" x="656"/><text x="656">→</text></g>
<g id="k13-13"><use href="#D" x="708"/><text x="708">→</text></g>
</g>
<g id="row14" transform="translate(0,738)">
<g id="k14-1"><use href="#D" x="84"/><text x="84">←</text></g>
<g id="k14-2"><use href="#O" x="136"/><text x="136">←</text></g>
<g id="k14-3"><use href="#G" x="188"/><text x="188">←</text></g>
<g id="k14-4"><use href="#O" x="240"/><text x="240">←</text></g>
<g id="k14-5"><use href="#D" x="292"/><text x="292">←</text></g>
<g id="k14-6"><use href="#D" x="344"/><text x="344">←</text></g>
<g id="k14-7"><use href="#D" x="396"/><text x="396">←</text></g>
<g id="k14-8"><use href="#D" x="448"/><text x="448">←</text></g>
<g id="k14-9"><use href="#D" x="500"/><text x="500">←</text></g>
<g id="k14-10"><use href="#O" x="552"/><text x="552">←</text></g>
<g id="k14-11"><use href="#O" x="604"/><text x="604">←</text></g>
<g id="k14-12"><use href="#O" x="656"/><text x="656">←</text></g>
<g id="k14-13"><use href="#D" x="708"/><text x="708">←</text></g>
</g>
<g id="row15" transform="translate(0,790)">
<g id="k15-1"><use href="#D" x="84"/><text x="84">→</text></g>
<g id="k15-2"><use href="#O" x="136"/><text x="136">→</text></g>
<g id="k15-3"><use href="#G" x="188"/><text x="188">→</text></g>
<g id="k15-4"><use href="#O" x="240"/><text x="240">→</text></g>
<g id="k15-5"><use href="#O" x="292"/><text x="292">→</text></g>
<g id="k15-6"><use href="#D" x="344"/><text x="344">→</text></g>
<g id="k15-7"><use href="#O" x="396"/><text x="396">→</text></g>
<g id="k15-8"><use href="#O" x="448"/><text x="448">→</text></g>
<g id="k15-9"><use href="#O" x="500"/><text x="500">→</text></g>
<g id="k15-10"><use href="#D" x="552"/><text x="552">→</text></g>
<g id="k15-11"><use href="#D" x="604"/><text x="604">→</text></g>
<g id="k15-12"><use href="#D" x="656"/><text x="656">→</text></g>
<g id="k15-13"><use href="#D" x="708"/><text x="708">→</text></g>
</g>
<g id="row16" transform="translate(0,842)">
<g id="k16-1"><use href="#D" x="84"/><text x="84">←</text></g>
<g id="k16-2"><use href="#O" x="136"/><text x="136">←</text></g>
<g id="k16-3"><use href="#G" x="188"/><text x="188">←</text></g>
<g id="k16-4"><use href="#O" x="240"/><text x="240">←</text></g>
<g id="k16-5"><use href="#O" x="292"/><text x="292">←</text></g>
<g id="k16-6"><use href="#O" x="344"/><text x="344">←</text></g>
<g id="k16-7"><use href="#O" x="396"/><text x="396">←</text></g>
<g id="k16-8"><use href="#G" x="448"/><text x="448">←</text></g>
<g id="k16-9"><use href="#O" x="500"/><text x="500">←</text></g>
<g id="k16-10"><use href="#O" x="552"/><text x="552">←</text></g>
<g id="k16-11"><use href="#D" x="604"/><text x="604">←</text></g>
<g id="k16-12"><use href="#D" x="656"/><text x="656">←</text></g>
<g id="k16-13"><use href="#D" x="708"/><text x="708">←</text></g>
</g>
<g id="row17" transform="translate(0,894)">
<g id="k17-1"><use href="#D" x="84"/><text x="84">→</text></g>
<g id="k17-2"><use href="#O" x="136"/><text x="136">→</text></g>
<g id="k17-3"><use href="#G" x="188"/><text x="188">→</text></g>
<g id="k17-4"><use href="#O" x="240"/><text x="240">→</text></g>
<g id="k17-5"><use href="#O" x="292"/><text x="292">→</text></g>
<g id="k17-6"><use href="#O" x="344"/><text x="344">→</text></g>
<g id="k17-7"><use href="#G" x="396"/><text x="396">→</text></g>
<g id="k17-8"><use href="#G" x="448"/><text x="448">→</text></g>
<g id="k17-9"><use href="#G" x="500"/><text x="500">→</text></g>
<g id="k17-10"><use href="#O" x="552"/><text x="552">→</text></g>
<g id="k17-11"><use href="#O" x="604"/><text x="604">→</text></g>
<g id="k17-12"><use href="#D" x="656"/><text x="656">→</text></g>
<g id="k17-13"><use href="#D" x="708"/><text x="708">→</text></g>
</g>
<g id="row18" transform="translate(0,946)">
<g id="k18-1"><use href="#D" x="84"/><text x="84">←</text></g>
<g id="k18-2"><use href="#O" x="136"/><text x="136">←</text></g>
<g id="k18-3"><use href="#G" x="188"/><text x="188">←</text></g>
<g id="k18-4"><use href="#G" x="240"/><text x="240">←</text></g>
<g id="k18-5"><use href="#O" x="292"/><text x="292">←</text></g>
<g id="k18-6"><use href="#O" x="344"/><text x="344">←</text></g>
<g id="k18-7"><use href="#G" x="396"/><text x="396">←</text></g>
<g id="k18-8"><use href="#G" x="448"/><text x="448">←</text></g>
<g id="k18-9"><use href="#G" x="500"/><text x="500">←</text></g>
<g id="k18-10"><use href="#G" x="552"/><text x="552">←</text></g>
<g id="k18-11"><use href="#O" x="604"/><text x="604">←</text></g>
<g id="k18-12"><use href="#O" x="656"/><text x="656">←</text></g>
<g id="k18-13"><use href="#D" x="708"/><text x="708">←</text></g>
</g>
<g id="row19" transform="translate(0,998)">
<g id="k19-1"><use href="#D" x="84"/><text x="84">→</text></g>
<g id="k19-2"><use href="#O" x="136"/><text x="136">→</text></g>
<g id="k19-3"><use href="#G" x="188"/><text x="188">→</text></g>
<g id="k19-4"><use href="#G" x="240"/><text x="240">→</text></g>
<g id="k19-5"><use href="#O" x="292"/><text x="292">→</text></g>
<g id="k19-6"><use href="#O" x="344"/><text x="344">→</text></g>
<g id="k19-7"><use href="#G" x="396"/><text x="396">→</text></g>
<g id="k19-8"><use href="#G" x="448"/><text x="448">→</text></g>
<g id="k19-9"><use href="#G" x="500"/><text x="500">→</text></g>
<g id="k19-10"><use href="#G" x="552"/><text x="552">→</text></g>
<g id="k19-11"><use href="#O" x="604"/><text x="604">→</text></g>
<g id="k19-12"><use href="#O" x="656"/><text x="656">→</text></g>
<g id="k19-13"><use href="#D" x="708"/><text x="708">→</text></g>
</g>
<g id="row20" transform="translate(0,1050)">
<g id="k20-1"><use href="#D" x="84"/><text x="84">←</text></g>
<g id="k20-2"><use href="#O" x="136"/><text x="136">←</text></g>
<g id="k20-3"><use href="#G" x="188"/><text x="188">←</text></g>
<g id="k20-4"><use href="#G" x="240"/><text x="240">←</text></g>
<g id="k20-5"><use href="#O" x="292"/><text x="292">←</text></g>
<g id="k20-6"><use href="#G" x="344"/><text x="344">←</text></g>
<g id="k20-7"><use href="#G" x="396"/><text x="396">←</text></g>
<g id="k20-8"><use href="#G" x="448"/><text x="448">←</text></g>
<g id="k20-9"><use href="#G" x="500"/><text x="500">←</text></g>
<g id="k20-10"><use href="#G" x="552"/><text x="552">←</text></g>
<g id="k20-11"><use href="#G" x="604"/><text x="604">←</text></g>
<g id="k20-12"><use href="#O" x="656"/><text x="656">←</text></g>
<g id="k20-13"><use href="#D" x="708"/><text x="708">←</text></g>
</g>
<g id="row21" transform="translate(0,1102)">
<g id="k21-1"><use href="#D" x="84"/><text x="84">→</text></g>
<g id="k21-2"><use href="#O" x="136"/><text x="136">→</text></g>
<g id="k21-3"><use href="#G" x="188"/><text x="188">→</text></g>
<g id="k21-4"><use href="#G" x="240"/><text x="240">→</text></g>
<g id="k21-5"><use href="#O" x="292"/><text x="292">→</text></g>
<g id="k21-6"><use href="#G" x="344"/><text x="344">→</text></g>
<g id="k21-7"><use href="#G" x="396"/><text x="396">→</text></g>
<g id="k21-8"><use href="#O" x="448"/><text x="448">→</text></g>
<g id="k21-9"><use href="#G" x="500"/><text x="500">→</text></g>
<g id="k21-10"><use href="#G" x="552"/><text x="552">→</text></g>
<g id="k21-11"><use href="#G" x="604"/><text x="604">→</text></g>
<g id="k21-12"><use href="#O" x="656"/><text x="656">→</text></g>
<g id="k21-13"><use href="#D" x="708"/><text x="708">→</text></g>
</g>
<g id="row22" transform="translate(0,1154)">
<g id="k22-1"><use href="#D" x="84"/><text x="84">←</text></g>
<g id="k22-2"><use href="#O" x="136"/><text x="136">←</text></g>
<g id="k22-3"><use href="#G" x="188"/><text x="188">←</text></g>
<g id="k22-4"><use href="#G" x="240"/><text x="240">←</text></g>
<g id="k22-5"><use href="#O" x="292"/><text x="292">←</text></g>
<g id="k22-6"><use href="#G" x="344"/><text x="344">←</text></g>
<g id="k22-7"><use href="#G" x="396"/><text x="396">←</text></g>
<g id="k22-8"><use href="#O" x="448"/><text x="448">←</text></g>
<g id="k22-9"><use href="#O" x="500"/><text x="500">←</text></g>
<g id="k22-10"><use href="#G" x="552"/><text x="552">←</text></g>
<g id="k22-11"><use href="#G" x="604"/><text x="604">←</text></g>
<g id="k22-12"><use href="#O" x="656"/><text x="656">←</text></g>
<g id="k22-13"><use href="#D" x="708"/><text x="708">←</text></g>
</g>
<g id="row23" transform="translate(0,1206)">
<g id="k23-1"><use href="#D" x="84"/><text x="84">→</text></g>
<g id="k23-2"><use href="#O" x="136"/><text x="136">→</text></g>
<g id="k23-3"><use href="#G" x="188"/><text x="188">→</text></g>
<g id="k23-4"><use href="#G" x="240"/><text x="240">→</text></g>
<g id="k23-5"><use href="#O" x="292"/><text x="292">→</text></g>
<g id="k23-6"><use href="#G" x="344"/><text x="344">→</text></g>
<g id="k23-7"><use href="#G" x="396"/><text x="396">→</text></g>
<g id="k23-8"><use href="#O" x="448"/><text x="448">→</text></g>
<g id="k23-9"><use href="#O" x="500"/><text x="500">→</text></g>
<g id="k23-10"><use href="#G" x="552"/><text x="552">→</text></g>
<g id="k23-11"><use href="#G" x="604"/><text x="604">→</text></g>
<g id="k23-12"><use href="#O" x="656"/><text x="656">→</text></g>
<g id="k23-13"><use href="#D" x="708"/><text x="708">→</text></g>
</g>
<g id="row24" transform="translate(0,1258)">
<g id="k24-1"><use href="#D" x="84"/><text x="84">←</text></g>
<g id="k24-2"><use href="#O" x="136"/><text x="136">←</text></g>
<g id="k24-3"><use href="#G" x="188"/><text x="188">←</text></g>
<g id="k24-4"><use href="#G" x="240"/><text x="240">←</text></g>
<g id="k24-5"><use href="#O" x="292"/><text x="292">←</text></g>
<g id="k24-6"><use href="#G" x="344"/><text x="344">←</text></g>
<g id="k24-7"><use href="#G" x="396"/><text x="396">←</text></g>
<g id="k24-8"><use href="#O" x="448"/><text x="448">←</text></g>
<g id="k24-9"><use href="#O" x="500"/><text x="500">←</text></g>
<g id="k24-10"><use href="#G" x="552"/><text x="552">←</text></g>
<g id="k24-11"><use href="#G" x="604"/><text x="604">←</text></g>
<g id="k24-12"><use href="#O" x="656"/><text x="656">←</text></g>
<g id="k24-13"><use href="#D" x="708"/><text x="708">←</text></g>
</g>
<g id="row25" transform="translate(0,1310)">
<g id="k25-1"><use href="#D" x="84"/><text x="84">→</text></g>
<g id="k25-2"><use href="#O" x="136"/><text x="136">→</text></g>
<g id="k25-3"><use href="#G" x="188"/><text x="188">→</text></g>
<g id="k25-4"><use href="#G" x="240"/><text x="240">→</text></g>
<g id="k25-5"><use href="#G" x="292"/><text x="292">→</text></g>
<g id="k25-6"><use href="#G" x="344"/><text x="344">→</text></g>
<g id="k25-7"><use href="#G" x="396"/><text x="396">→</text></g>
<g id="k25-8"><use href="#O" x="448"/><text x="448">→</text></g>
<g id="k25-9"><use href="#O" x="500"/><text x="500">→</text></g>
<g id="k25-10"><use href="#G" x="552"/><text x="552">→</text></g>
<g id="k25-11"><use href="#G" x="604"/><text x="604">→</text></g>
<g id="k25-12"><use href="#O" x="656"/><text x="656">→</text></g>
<g id="k25-13"><use href="#D" x="708"/><text x="708">→</text></g>
</g>
<g id="row26" transform="translate(0,1362)">
<g id="k26-1"><use href="#D" x="84"/><text x="84">←</text></g>
<g id="k26-2"><use href="#O" x="136"/><text x="136">←</text></g>
<g id="k26-3"><use href="#O" x="188"/><text x="188">←</text></g>
<g id="k26-4"><use href="#G" x="240"/><text x="240">←</text></g>
<g id="k26-5"><use href="#G" x="292"/><text x="292">←</text></g>
<g id="k26-6"><use href="#G" x="344"/><text x="344">←</text></g>
<g id="k26-7"><use href="#G" x="396"/><text x="396">←</text></g>
<g id="k26-8"><use href="#O" x="448"/><text x="448">←</text></g>
<g id="k26-9"><use href="#O" x="500"/><text x="500">←</text></g>
<g id="k26-10"><use href="#O" x="552"/><text x="552">←</text></g>
<g id="k26-11"><use href="#G" x="604"/><text x="604">←</text></g>
<g id="k26-12"><use href="#O" x="656"/><text x="656">←</text></g>
<g id="k26-13"><use href="#D" x="708"/><text x="708">←</text></g>
</g>
<g id="row27" transform="translate(0,1414)">
<g id="k27-1"><use href="#D" x="84"/><text x="84">→</text></g>
<g id="k27-2"><use href="#D" x="136"/><text x="136">→</text></g>
<g id="k27-3"><use href="#O" x="188"/><text x="188">→</text></g>
<g id="k27-4"><use href="#O" x="240"/><text x="240">→</text></g>
<g id="k27-5"><use href="#G" x="292"/><text x="292">→</text></g>
<g id="k27-6"><use href="#G" x="344"/><text x="344">→</text></g>
<g id="k27-7"><use href="#G" x="396"/><text x="396">→</text></g>
<g id="k27-8"><use href="#O" x="448"/><text x="448">→</text></g>
<g id="k27-9"><use href="#O" x="500"/><text x="500">→</text></g>
<g id="k27-10"><use href="#O" x="552"/><text x="552">→</text></g>
<g id="k27-11"><use href="#G" x="604"/><text x="604">→</text></g>
<g id="k27-12"><use href="#O" x="656"/><text x="656">→</text></g>
<g id="k27-13"><use href="#D" x="708"/><text x="708">→</text></g>
</g>
<g id="row28" transform="translate(0,1466)">
<g id="k28-1"><use href="#D" x="84"/><text x="84">←</text></g>
<g id="k28-2"><use href="#D" x="136"/><text x="136">←</text></g>
<g id="k28-3"><use href="#D" x="188"/><text x="188">←</text></g>
<g id="k28-4"><use href="#O" x="240"/><text x="240">←</text></g>
<g id="k28-5"><use href="#O" x="292"/><text x="292">←</text></g>
<g id="k28-6"><use href="#G" x="344"/><text x="344">←</text></g>
<g id="k28-7"><use href="#G" x="396"/><text x="396">←</text></g>
<g id="k28-8"><use href="#O" x="448"/><text x="448">←</text></g>
<g id="k28-9"><use href="#D" x="500"/><text x="500">←</text></g>
<g id="k28-10"><use href="#O" x="552"/><text x="552">←</text></g>
<g id="k28-11"><use href="#G" x="604"/><text x="604">←</text></g>
<g id="k28-12"><use href="#O" x="656"/><text x="656">←</text></g>
<g id="k28-13"><use href="#D" x="708"/><text x="708">←</text></g>
</g>
<g id="row29" transform="translate(0,1518)">
<g id="k29-1"><use href="#D" x="84"/><text x="84">→</text></g>
<g id="k29-2"><use href="#D" x="136"/><text x="136">→</text></g>
<g id="k29-3"><use href="#D" x="188"/><text x="188">→</text></g>
<g id="k29-4"><use href="#D" x="240"/><text x="240">→</text></g>
<g id="k29-5"><use href="#O" x="292"/><text x="292">→</text></g>
<g id="k29-6"><use href="#O" x="344"/><text x="344">→</text></g>
<g id="k29-7"><use href="#O" x="396"/><text x="396">→</text></g>
<g id="k29-8"><use href="#O" x="448"/><text x="448">→</text></g>
<g id="k29-9"><use href="#D" x="500"/><text x="500">→</text></g>
<g id="k29-10"><use href="#O" x="552"/><text x="552">→</text></g>
<g id="k29-11"><use href="#G" x="604"/><text x="604">→</text></g>
<g id="k29-12"><use href="#O" x="656"/><text x="656">→</text></g>
<g id="k29-13"><use href="#D" x="708"/><text x="708">→</text></g>
</g>
<g id="row30" transform="translate(0,1570)">
<g id="k30-1"><use href="#D" x="84"/><text x="84">←</text></g>
<g id="k30-2"><use href="#D" x="136"/><text x="136">←</text></g>
<g id="k30-3"><use href="#D" x="188"/><text x="188">←</text></g>
<g id="k30-4"><use href="#O" x="240"/><text x="240">←</text></g>
<g id="k30-5"><use href="#O" x="292"/><text x="292">←</text></g>
<g id="k30-6"><use href="#O" x="344"/><text x="344">←</text></g>
<g id="k30-7"><use href="#D" x="396"/><text x="396">←</text></g>
<g id="k30-8"><use href="#D" x="448"/><text x="448">←</text></g>
<g id="k30-9"><use href="#D" x="500"/><text x="500">←</text></g>
<g id="k30-10"><use href="#O" x="552"/><text x="552">←</text></g>
<g id="k30-11"><use href="#G" x="604"/><text x="604">←</text></g>
<g id="k30-12"><use href="#O" x="656"/><text x="656">←</text></g>
<g id="k30-13"><use href="#D" x="708"/><text x="708">←</text></g>
</g>
<g id="row31" transform="translate(0,1622)">
<g id="k31-1"><use href="#D" x="84"/><text x="84">→</text></g>
<g id="k31-2"><use href="#D" x="136"/><text x="136">→</text></g>
<g id="k31-3"><use href="#O" x="188"/><text x="188">→</text></g>
<g id="k31-4"><use href="#G" x="240"/><text x="240">→</text></g>
<g id="k31-5"><use href="#G" x="292"/><text x="292">→</text></g>
<g id="k31-6"><use href="#O" x="344"/><text x="344">→</text></g>
<g id="k31-7"><use href="#O" x="396"/><text x="396">→</text></g>
<g id="k31-8"><use href="#O" x="448"/><text x="448">→</text></g>
<g id="k31-9"><use href="#D" x="500"/><text x="500">→</text></g>
<g id="k31-10"><use href="#O" x="552"/><text x="552">→</text></g>
<g id="k31-11"><use href="#O" x="604"/><text x="604">→</text></g>
<g id="k31-12"><use href="#O" x="656"/><text x="656">→</text></g>
<g id="k31-13"><use href="#D" x="708"/><text x="708">→</text></g>
</g>
<g id="row32" transform="translate(0,1674)">
<g id="k32-1"><use href="#D" x="84"/><text x="84">←</text></g>
<g id="k32-2"><use href="#O" x="136"/><text x="136">←</text></g>
<g id="k32-3"><use href="#O" x="188"/><text x="188">←</text></g>
<g id="k32-4"><use href="#G" x="240"/><text x="240">←</text></g>
<g id="k32-5"><use href="#G" x="292"/><text x="292">←</text></g>
<g id="k32-6"><use href="#G" x="344"/><text x="344">←</text></g>
<g id="k32-7"><use href="#G" x="396"/><text x="396">←</text></g>
<g id="k32-8"><use href="#O" x="448"/><text x="448">←</text></g>
<g id="k32-9"><use href="#O" x="500"/><text x="500">←</text></g>
<g id="k32-10"><use href="#D" x="552"/><text x="552">←</text></g>
<g id="k32-11"><use href="#D" x="604"/><text x="604">←</text></g>
<g id="k32-12"><use href="#D" x="656"/><text x="656">←</text></g>
<g id="k32-13"><use href="#D" x="708"/><text x="708">←</text></g>
</g>
<g id="row33" transform="translate(0,1726)">
<g id="k33-1"><use href="#D" x="84"/><text x="84">→</text></g>
<g id="k33-2"><use href="#O" x="136"/><text x="136">→</text></g>
<g id="k33-3"><use href="#G" x="188"/><text x="188">→</text></g>
<g id="k33-4"><use href="#G" x="240"/><text x="240">→</text></g>
<g id="k33-5"><use href="#G" x="292"/><text x="292">→</text></g>
<g id="k33-6"><use href="#G" x="344"/><text x="344">→</text></g>
<g id="k33-7"><use href="#G" x="396"/><text x="396">→</text></g>
<g id="k33-8"><use href="#G" x="448"/><text x="448">→</text></g>
<g id="k33-9"><use href="#O" x="500"/><text x="500">→</text></g>
<g id="k33-10"><use href="#O" x="552"/><text x="552">→</text></g>
<g id="k33-11"><use href="#D" x="604"/><text x="604">→</text></g>
<g id="k33-12"><use href="#D" x="656"/><text x="656">→</text></g>
<g id="k33-13"><use href="#D" x="708"/><text x="708">→</text></g>
</g>
<g id="row34" transform="translate(0,1778)">
<g id="k34-1"><use href="#D" x="84"/><text x="84">←</text></g>
<g id="k34-2"><use href="#O" x="136"/><text x="136">←</text></g>
<g id="k34-3"><use href="#G" x="188"/><text x="188">←</text></g>
<g id="k34-4"><use href="#G" x="240"/><text x="240">←</text></g>
<g id="k34-5"><use href="#G" x="292"/><text x="292">←</text></g>
<g id="k34-6"><use href="#G" x="344"/><text x="344">←</text></g>
<g id="k34-7"><use href="#G" x="396"/><text x="396">←</text></g>
<g id="k34-8"><use href="#G" x="448"/><text x="448">←</text></g>
<g id="k34-9"><use href="#G" x="500"/><text x="500">←</text></g>
<g id="k34-10"><use href="#O" x="552"/><text x="552">←</text></g>
<g id="k34-11"><use href="#O" x="604"/><text x="604">←</text></g>
<g id="k34-12"><use href="#D" x="656"/><text x="656">←</text></g>
<g id="k34-13"><use href="#D" x="708"/><text x="708">←</text></g>
</g>
<g id="row35" transform="translate(0,1830)">
<g id="k35-1"><use href="#D" x="84"/><text x="84">→</text></g>
<g id="k35-2"><use href="#O" x="136"/><text x="136">→</text></g>
<g id="k35-3"><use href="#G" x="188"/><text x="188">→</text></g>
<g id="k35-4"><use href="#G" x="240"/><text x="240">→</text></g>
<g id="k35-5"><use href="#G" x="292"/><text x="292">→</text></g>
<g id="k35-6"><use href="#G" x="344"/><text x="344">→</text></g>
<g id="k35-7"><use href="#G" x="396"/><text x="396">→</text></g>
<g id="k35-8"><use href="#G" x="448"/><text x="448">→</text></g>
<g id="k35-9"><use href="#G" x="500"/><text x="500">→</text></g>
<g id="k35-10"><use href="#G" x="552"/><text x="552">→</text></g>
<g id="k35-11"><use href="#O" x="604"/><text x="604">→</text></g>
<g id="k35-12"><use href="#D" x="656"/><text x="656">→</text></g>
<g id="k35-13"><use href="#D" x="708"/><text x="708">→</text></g>
</g>
<g id="row36" transform="translate(0,1882)">
<g id="k36-1"><use href="#D" x="84"/><text x="84">←</text></g>
<g id="k36-2"><use href="#O" x="136"/><text x="136">←</text></g>
<g id="k36-3"><use href="#G" x="188"/><text x="188">←</text></g>
<g id="k36-4"><use href="#O" x="240"/><text x="240">←</text></g>
<g id="k36-5"><use href="#O" x="292"/><text x="292">←</text></g>
<g id="k36-6"><use href="#O" x="344"/><text x="344">←</text></g>
<g id="k36-7"><use href="#O" x="396"/><text x="396">←</text></g>
<g id="k36-8"><use href="#G" x="448"/><text x="448">←</text></g>
<g id="k36-9"><use href="#G" x="500"/><text x="500">←</text></g>
<g id="k36-10"><use href="#G" x="552"/><text x="552">←</text></g>
<g id="k36-11"><use href="#O" x="604"/><text x="604">←</text></g>
<g id="k36-12"><use href="#O" x="656"/><text x="656">←</text></g>
<g id="k36-13"><use href="#D" x="708"/><text x="708">←</text></g>
</g>
<g id="row37" transform="translate(0,1934)">
<g id="k37-1"><use href="#D" x="84"/><text x="84">→</text></g>
<g id="k37-2"><use href="#O" x="136"/><text x="136">→</text></g>
<g id="k37-3"><use href="#G" x="188"/><text x="188">→</text></g>
<g id="k37-4"><use href="#O" x="240"/><text x="240">→</text></g>
<g id="k37-5"><use href="#D" x="292"/><text x="292">→</text></g>
<g id="k37-6"><use href="#D" x="344"/><text x="344">→</text></g>
<g id="k37-7"><use href="#D" x="396"/><text x="396">→</text></g>
<g id="k37-8"><use href="#O" x="448"/><text x="448">→</text></g>
<g id="k37-9"><use href="#O" x="500"/><text x="500">→</text></g>
<g id="k37-10"><use href="#G" x="552"/><text x="552">→</text></g>
<g id="k37-11"><use href="#G" x="604"/><text x="604">→</text></g>
<g id="k37-12"><use href="#O" x="656"/><text x="656">→</text></g>
<g id="k37-13"><use href="#D" x="708"/><text x="708">→</text></g>
</g>
<g id="row38" transform="translate(0,1986)">
<g id="k38-1"><use href="#D" x="84"/><text x="84">←</text></g>
<g id="k38-2"><use href="#O" x="136"/><text x="136">←</text></g>
<g id="k38-3"><use href="#G" x="188"/><text x="188">←</text></g>
<g id="k38-4"><use href="#O" x="240"/><text x="240">←</text></g>
<g id="k38-5"><use href="#D" x="292"/><text x="292">←</text></g>
<g id="k38-6"><use href="#D" x="344"/><text x="344">←</text></g>
<g id="k38-7"><use href="#D" x="396"/><text x="396">←</text></g>
<g id="k38-8"><use href="#D" x="448"/><text x="448">←</text></g>
<g id="k38-9"><use href="#O" x="500"/><text x="500">←</text></g>
<g id="k38-10"><use href="#G" x="552"/><text x="552">←</text></g>
<g id="k38-11"><use href="#G" x="604"/><text x="604">←</text></g>
<g id="k38-12"><use href="#O" x="656"/><text x="656">←</text></g>
<g id="k38-13"><use href="#D" x="708"/><text x="708">←</text></g>
</g>
<g id="row39" transform="translate(0,2038)">
<g id="k39-1"><use href="#D" x="84"/><text x="84">→</text></g>
<g id="k39-2"><use href="#O" x="136"/><text x="136">→</text></g>
<g id="k39-3"><use href="#G" x="188"/><text x="188">→</text></g>
<g id="k39-4"><use href="#O" x="240"/><text x="240">→</text></g>
<g id="k39-5"><use href="#D" x="292"/><text x="292">→</text></g>
<g id="k39-6"><use href="#D" x="344"/><text x="344">→</text></g>
<g id="k39-7"><use href="#O" x="396"/><text x="396">→</text></g>
<g id="k39-8"><use href="#D" x="448"/><text x="448">→</text></g>
<g id="k39-9"><use href="#D" x="500"/><text x="500">→</text></g>
<g id="k39-10"><use href="#O" x="552"/><text x="552">→</text></g>
<g id="k39-11"><use href="#G" x="604"/><text x="604">→</text></g>
<g id="k39-12"><use href="#O" x="656"/><text x="656">→</text></g>
<g id="k39-13"><use href="#D" x="708"/><text x="708">→</text></g>
</g>
<g id="row40" transform="translate(0,2090)">
<g id="k40-1"><use href="#D" x="84"/><text x="84">←</text></g>
<g id="k40-2"><use href="#O" x="136"/><text x="136">←</text></g>
<g id="k40-3"><use href="#G" x="188"/><text x="188">←</text></g>
<g id="k40-4"><use href="#O" x="240"/><text x="240">←</text></g>
<g id="k40-5"><use href="#O" x="292"/><text x="292">←</text></g>
<g id="k40-6"><use href="#O" x="344"/><text x="344">←</text></g>
<g id="k40-7"><use href="#O" x="396"/><text x="396">←</text></g>
<g id="k40-8"><use href="#D" x="448"/><text x="448">←</text></g>
<g id="k40-9"><use href="#D" x="500"/><text x="500">←</text></g>
<g id="k40-10"><use href="#O" x="552"/><text x="552">←</text></g>
<g id="k40-11"><use href="#G" x="604"/><text x="604">←</text></g>
<g id="k40-12"><use href="#O" x="656"/><text x="656">←</text></g>
<g id="k40-13"><use href="#D" x="708"/><text x="708">←</text></g>
</g>
<g id="row41" transform="translate(0,2142)">
<g id="k41-1"><use href="#D" x="84"/><text x="84">→</text></g>
<g id="k41-2"><use href="#O" x="136"/><text x="136">→</text></g>
<g id="k41-3"><use href="#G" x="188"/><text x="188">→</text></g>
<g id="k41-4"><use href="#G" x="240"/><text x="240">→</text></g>
<g id="k41-5"><use href="#O" x="292"/><text x="292">→</text></g>
<g id="k41-6"><use href="#G" x="344"/><text x="344">→</text></g>
<g id="k41-7"><use href="#O" x="396"/><text x="396">→</text></g>
<g id="k41-8"><use href="#D" x="448"/><text x="448">→</text></g>
<g id="k41-9"><use href="#D" x="500"/><text x="500">→</text></g>
<g id="k41-10"><use href="#O" x="552"/><text x="552">→</text></g>
<g id="k41-11"><use href="#G" x="604"/><text x="604">→</text></g>
<g id="k41-12"><use href="#O" x="656"/><text x="656">→</text></g>
<g id="k41-13"><use href="#D" x="708"/><text x="708">→</text></g>
</g>
<g id="row42" transform="translate(0,2194)">
<g id="k42-1"><use href="#D" x="84"/><text x="84">←</text></g>
<g id="k42-2"><use href="#O" x="136"/><text x="136">←</text></g>
<g id="k42-3"><use href="#G" x="188"/><text x="188">←</text></g>
<g id="k42-4"><use href="#G" x="240"/><text x="240">←</text></g>
<g id="k42-5"><use href="#G" x="292"/><text x="292">←</text></g>
<g id="k42-6"><use href="#G" x="344"/><text x="344">←</text></g>
<g id="k42-7"><use href="#O" x="396"/><text x="396">←</text></g>
<g id="k42-8"><use href="#D" x="448"/><text x="448">←</text></g>
<g id="k42-9"><use href="#D" x="500"/><text x="500">←</text></g>
<g id="k42-10"><use href="#O" x="552"/><text x="552">←</text></g>
<g id="k42-11"><use href="#G" x="604"/><text x="604">←</text></g>
<g id="k42-12"><use href="#O" x="656"/><text x="656">←</text></g>
<g id="k42-13"><use href="#D" x="708"/><text x="708">←</text></g>
</g>
<g id="row43" transform="translate(0,2246)">
<g id="k43-1"><use href="#D" x="84"/><text x="84">→</text></g>
<g id="k43-2"><use href="#O" x="136"/><text x="136">→</text></g>
<g id="k43-3"><use href="#G" x="188"/><text x="188">→</text></g>
<g id="k43-4"><use href="#G" x="240"/><text x="240">→</text></g>
<g id="k43-5"><use href="#G" x="292"/><text x="292">→</text></g>
<g id="k43-6"><use href="#G" x="344"/><text x="344">→</text></g>
<g id="k43-7"><use href="#O" x="396"/><text x="396">→</text></g>
<g id="k43-8"><use href="#D" x="448"/><text x="448">→</text></g>
<g id="k43-9"><use href="#D" x="500"/><text x="500">→</text></g>
<g id="k43-10"><use href="#O" x="552"/><text x="552">→</text></g>
<g id="k43-11"><use href="#G" x="604"/><text x="604">→</text></g>
<g id="k43-12"><use href="#O" x="656"/><text x="656">→</text></g>
<g id="k43-13"><use href="#D" x="708"/><text x="708">→</text></g>
</g>
<g id="row44" transform="translate(0,2298)">
<g id="k44-1"><use href="#D" x="84"/><text x="84">←</text></g>
<g id="k44-2"><use href="#O" x="136"/><text x="136">←</text></g>
<g id="k44-3"><use href="#G" x="188"/><text x="188">←</text></g>
<g id="k44-4"><use href="#G" x="240"/><text x="240">←</text></g>
<g id="k44-5"><use href="#G" x="292"/><text x="292">←</text></g>
<g id="k44-6"><use href="#G" x="344"/><text x="344">←</text></g>
<g id="k44-7"><use href="#O" x="396"/><text x="396">←</text></g>
<g id="k44-8"><use href="#D" x="448"/><text x="448">←</text></g>
<g id="k44-9"><use href="#O" x="500"/><text x="500">←</text></g>
<g id="k44-10"><use href="#G" x="552"/><text x="552">←</text></g>
<g id="k44-11"><use href="#G" x="604"/><text x="604">←</text></g>
<g id="k44-12"><use href="#O" x="656"/><text x="656">←</text></g>
<g id="k44-13"><use href="#D" x="708"/><text x="708">←</text></g>
</g>
<g id="row45" transform="translate(0,2350)">
<g id="k45-1"><use href="#D" x="84"/><text x="84">→</text></g>
<g id="k45-2"><use href="#O" x="136"/><text x="136">→</text></g>
<g id="k45-3"><use href="#O" x="188"/><text x="188">→</text></g>
<g id="k45-4"><use href="#O" x="240"/><text x="240">→</text></g>
<g id="k45-5"><use href="#O" x="292"/><text x="292">→</text></g>
<g id="k45-6"><use href="#G" x="344"/><text x="344">→</text></g>
<g id="k45-7"><use href="#O" x="396"/><text x="396">→</text></g>
<g id="k45-8"><use href="#D" x="448"/><text x="448">→</text></g>
<g id="k45-9"><use href="#O" x="500"/><text x="500">→</text></g>
<g id="k45-10"><use href="#G" x="552"/><text x="552">→</text></g>
<g id="k45-11"><use href="#G" x="604"/><text x="604">→</text></g>
<g id="k45-12"><use href="#O" x="656"/><text x="656">→</text></g>
<g id="k45-13"><use href="#D" x="708"/><text x="708">→</text></g>
</g>
<g id="row46" transform="translate(0,2402)">
<g id="k46-1"><use href="#D" x="84"/><text x="84">←</text></g>
<g id="k46-2"><use href="#D" x="136"/><text x="136">←</text></g>
<g id="k46-3"><use href="#D" x="188"/><text x="188">←</text></g>
<g id="k46-4"><use href="#O" x="240"/><text x="240">←</text></g>
<g id="k46-5"><use href="#O" x="292"/><text x="292">←</text></g>
<g id="k46-6"><use href="#G" x="344"/><text x="344">←</text></g>
<g id="k46-7"><use href="#O" x="396"/><text x="396">←</text></g>
<g id="k46-8"><use href="#D" x="448"/><text x="448">←</text></g>
<g id="k46-9"><use href="#O" x="500"/><text x="500">←</text></g>
<g id="k46-10"><use href="#G" x="552"/><text x="552">←</text></g>
<g id="k46-11"><use href="#G" x="604"/><text x="604">←</text></g>
<g id="k46-12"><use href="#O" x="656"/><text x="656">←</text></g>
<g id="k46-13"><use href="#D" x="708"/><text x="708">←</text></g>
</g>
<g id="row47" transform="translate(0,2454)">
<g id="k47-1"><use href="#D" x="84"/><text x="84">→</text></g>
<g id="k47-2"><use href="#D" x="136"/><text x="136">→</text></g>
<g id="k47-3"><use href="#D" x="188"/><text x="188">→</text></g>
<g id="k47-4"><use href="#D" x="240"/><text x="240">→</text></g>
<g id="k47-5"><use href="#O" x="292"/><text x="292">→</text></g>
<g id="k47-6"><use href="#G" x="344"/><text x="344">→</text></g>
<g id="k47-7"><use href="#O" x="396"/><text x="396">→</text></g>
<g id="k47-8"><use href="#D" x="448"/><text x="448">→</text></g>
<g id="k47-9"><use href="#O" x="500"/><text x="500">→</text></g>
<g id="k47-10"><use href="#G" x="552"/><text x="552">→</text></g>
<g id="k47-11"><use href="#G" x="604"/><text x="604">→</text></g>
<g id="k47-12"><use href="#O" x="656"/><text x="656">→</text></g>
<g id="k47-13"><use href="#D" x="708"/><text x="708">→</text></g>
</g>
<g id="row48" transform="translate(0,2506)">
<g id="k48-1"><use href="#D" x="84"/><text x="84">←</text></g>
<g id="k48-2"><use href="#D" x="136"/><text x="136">←</text></g>
<g id="k48-3"><use href="#D" x="188"/><text x="188">←</text></g>
<g id="k48-4"><use href="#D" x="240"/><text x="240">←</text></g>
<g id="k48-5"><use href="#O" x="292"/><text x="292">←</text></g>
<g id="k48-6"><use href="#O" x="344"/><text x="344">←</text></g>
<g id="k48-7"><use href="#O" x="396"/><text x="396">←</text></g>
<g id="k48-8"><use href="#D" x="448"/><text x="448">←</text></g>
<g id="k48-9"><use href="#O" x="500"/><text x="500">←</text></g>
<g id="k48-10"><use href="#O" x="552"/><text x="552">←</text></g>
<g id="k48-11"><use href="#O" x="604"/><text x="604">←</text></g>
<g id="k48-12"><use href="#O" x="656"/><text x="656">←</text></g>
<g id="k48-13"><use href="#D" x="708"/><text x="708">←</text></g>
</g>
<g id="row49" transform="translate(0,2558)">
<g id="k49-1"><use href="#D" x="84"/><text x="84">→</text></g>
<g id="k49-2"><use href="#D" x="136"/><text x="136">→</text></g>
<g id="k49-3"><use href="#D" x="188"/><text x="188">→</text></g>
<g id="k49-4"><use href="#D" x="240"/><text x="240">→</text></g>
<g id="k49-5"><use href="#D" x="292"/><text x="292">→</text></g>
<g id="k49-6"><use href="#D" x="344"/><text x="344">→</text></g>
<g id="k49-7"><use href="#O" x="396"/><text x="396">→</text></g>
<g id="k49-8"><use href="#D" x="448"/><text x="448">→</text></g>
<g id="k49-9"><use href="#D" x="500"/><text x="500">→</text></g>
<g id="k49-10"><use href="#D" x="552"/><text x="552">→</text></g>
<g id="k49-11"><use href="#O" x="604"/><text x="604">→</text></g>
<g id="k49-12"><use href="#O" x="656"/><text x="656">→</text></g>
<g id="k49-13"><use href="#D" x="708"/><text x="708">→</text></g>
</g>
<g id="row50" transform="translate(0,2610)">
<g id="k50-1"><use href="#D" x="84"/><text x="84">←</text></g>
<g id="k50-2"><use href="#D" x="136"/><text x="136">←</text></g>
<g id="k50-3"><use href="#D" x="188"/><text x="188">←</text></g>
<g id="k50-4"><use href="#D" x="240"/><text x="240">←</text></g>
<g id="k50-5"><use href="#D" x="292"/><text x="292">←</text></g>
<g id="k50-6"><use href="#D" x="344"/><text x="344">←</text></g>
<g id="k50-7"><use href="#D" x="396"/><text x="396">←</text></g>
<g id="k50-8"><use href="#D" x="448"/><text x="448">←</text></g>
<g id="k50-9"><use href="#D" x="500"/><text x="500">←</text></g>
<g id="k50-10"><use href="#D" x="552"/><text x="552">←</text></g>
<g id="k50-11"><use href="#D" x="604"/><text x="604">←</text></g>
<g id="k50-12"><use href="#D" x="656"/><text x="656">←</text></g>
<g id="k50-13"><use href="#D" x="708"/><text x="708">←</text></g>
</g>
</g>
<text id="watermark" class="wm" x="396" y="1342">BRACELETBOOK.COM</text>
</svg>
